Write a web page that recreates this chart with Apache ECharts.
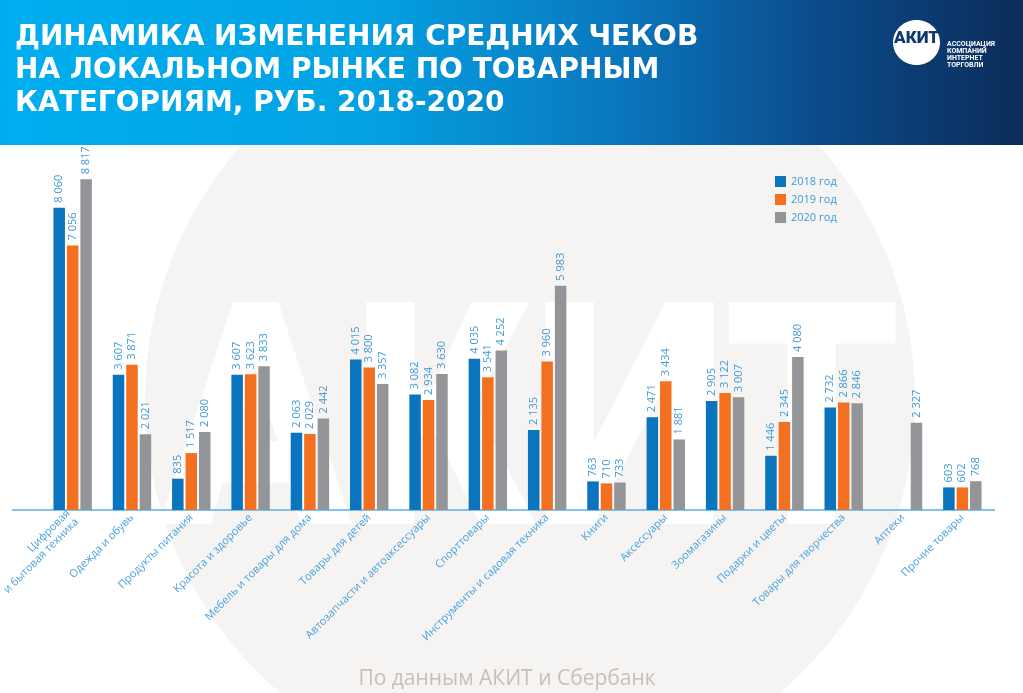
<!DOCTYPE html>
<html>
<head>
<meta charset="utf-8">
<script src="https://cdn.jsdelivr.net/npm/echarts@6/dist/echarts.min.js"></script>
<style>
html,body{margin:0;padding:0;background:#fff;}
#chart{width:1023px;height:693px;}
</style>
</head>
<body>
<div id="chart"></div>
<script>
var categories = [
  'Цифровая\nи бытовая техника', 'Одежда и обувь', 'Продукты питания', 'Красота и здоровье',
  'Мебель и товары для дома', 'Товары для детей', 'Автозапчасти и автоаксессуары', 'Спорттовары',
  'Инструменты и садовая техника', 'Книги', 'Аксессуары', 'Зоомагазины',
  'Подарки и цветы', 'Товары для творчества', 'Аптеки', 'Прочие товары'
];
var seriesNames = ['2018 год', '2019 год', '2020 год'];
var values2018 = [8060, 3607, 835, 3607, 2063, 4015, 3082, 4035, 2135, 763, 2471, 2905, 1446, 2732, null, 603];
var values2019 = [7056, 3871, 1517, 3623, 2029, 3800, 2934, 3541, 3960, 710, 3434, 3122, 2345, 2866, null, 602];
var values2020 = [8817, 2021, 2080, 3833, 2442, 3357, 3630, 4252, 5983, 733, 1881, 3007, 4080, 2846, 2327, 768];
var colors = ['#0a74bf', '#f37021', '#939598'];

function fmt(v) {
  if (v == null) return '';
  var s = String(v);
  if (v >= 1000) s = s.slice(0, s.length - 3) + ' ' + s.slice(s.length - 3);
  return s;
}

var chart = echarts.init(document.getElementById('chart'), null, {renderer: 'canvas'});

function mkSeries(name, data, color) {
  return {
    name: name,
    type: 'bar',
    data: data,
    barWidth: 11.5,
    barGap: '17%',
    itemStyle: {color: color},
    z: 5,
    label: {
      show: true,
      position: 'top',
      rotate: 90,
      align: 'left',
      verticalAlign: 'middle',
      distance: 5,
      color: '#3f9ad6',
      fontSize: 11,
      fontFamily: 'Open Sans',
      formatter: function (p) { return fmt(p.value); }
    }
  };
}

var option = {
  backgroundColor: '#ffffff',
  animation: false,
  graphic: [
    {
      type: 'circle', z: -10, silent: true,
      shape: {cx: 530, cy: 400, r: 385},
      style: {fill: '#f5f4f2'}
    },
    {
      type: 'text', z: -9, silent: true,
      x: 160, y: 290, scaleX: 0.9,
      style: {text: 'АКИТ', fill: '#ffffff', font: '900 312px Roboto', textVerticalAlign: 'top'}
    },
    {
      type: 'rect', z: 0, silent: true,
      shape: {x: 0, y: 0, width: 1023, height: 145},
      style: {
        fill: new echarts.graphic.LinearGradient(0, 0, 1, 0, [
          {offset: 0, color: '#00aeef'},
          {offset: 0.35, color: '#03a3e3'},
          {offset: 0.6, color: '#0a78bf'},
          {offset: 0.8, color: '#0b4b8a'},
          {offset: 1, color: '#0c2c5a'}
        ])
      }
    },
    {
      type: 'ellipse', z: 1, silent: true,
      shape: {cx: 916.5, cy: 42.5, rx: 23.5, ry: 22.5},
      style: {fill: '#ffffff'}
    },
    {
      type: 'text', z: 2, silent: true,
      x: 916.5, y: 39,
      style: {text: 'АКИТ', fill: '#0b3a6e', font: '900 17px Roboto', textAlign: 'center', textVerticalAlign: 'middle'}
    },
    {
      type: 'text', z: 2, silent: true,
      x: 947, y: 41,
      style: {text: 'АССОЦИАЦИЯ\nКОМПАНИЙ\nИНТЕРНЕТ\nТОРГОВЛИ', fill: '#ffffff', font: 'bold 7px Roboto', lineHeight: 6.8, textVerticalAlign: 'top'}
    },
    {
      type: 'text', z: 2, silent: true,
      x: 15, y: 21,
      style: {
        text: 'ДИНАМИКА ИЗМЕНЕНИЯ СРЕДНИХ ЧЕКОВ\nНА ЛОКАЛЬНОМ РЫНКЕ ПО ТОВАРНЫМ\nКАТЕГОРИЯМ, РУБ. 2018-2020',
        fill: '#ffffff', font: 'bold 28px "DejaVu Sans"', lineHeight: 33, textVerticalAlign: 'top'
      }
    },
    {
      type: 'line', z: 3, silent: true,
      shape: {x1: 12, y1: 510, x2: 995, y2: 510},
      style: {stroke: '#5aaee6', lineWidth: 1.5}
    },
    {
      type: 'text', z: 2, silent: true,
      x: 507, y: 669,
      style: {text: 'По данным АКИТ и Сбербанк', fill: '#c8bfb8', font: '21px "Open Sans"', textAlign: 'center', textVerticalAlign: 'top'}
    }
  ],
  legend: {
    data: seriesNames,
    orient: 'vertical',
    left: 775,
    top: 176,
    padding: 0,
    itemWidth: 11,
    itemHeight: 11,
    itemGap: 7,
    icon: 'rect',
    textStyle: {color: '#3f9ad6', fontSize: 11, fontFamily: 'Open Sans'}
  },
  grid: {left: 43, right: 31, top: 135, bottom: 183, containLabel: false, outerBoundsMode: 'none'},
  xAxis: {
    type: 'category',
    data: categories,
    axisLine: {show: false},
    axisTick: {show: false},
    axisLabel: {
      interval: 0,
      rotate: 45,
      margin: 6,
      color: '#4aa3df',
      fontSize: 11,
      fontFamily: 'Open Sans',
      lineHeight: 12
    }
  },
  yAxis: {
    type: 'value',
    min: 0,
    max: 10000,
    show: false,
    splitLine: {show: false}
  },
  series: [
    mkSeries(seriesNames[0], values2018, colors[0]),
    mkSeries(seriesNames[1], values2019, colors[1]),
    mkSeries(seriesNames[2], values2020, colors[2])
  ]
};
chart.setOption(option);
</script>
</body>
</html>
